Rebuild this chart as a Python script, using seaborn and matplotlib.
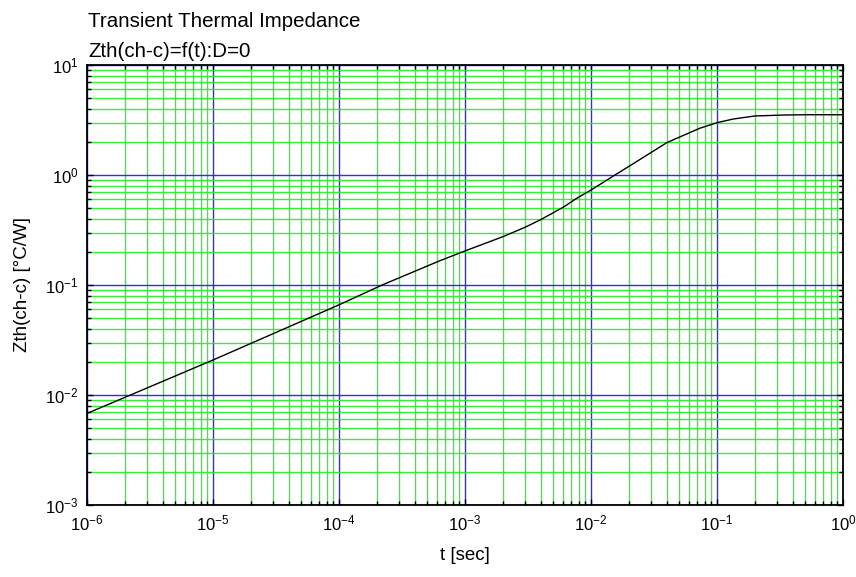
import numpy as np
import pandas as pd
import matplotlib
matplotlib.use("Agg")
import matplotlib.pyplot as plt
import seaborn as sns
from matplotlib.ticker import LogLocator, NullFormatter, LogFormatterSciNotation

# ---- data ----
t_sec = [1e-6, 1e-5, 1e-4, 2.2e-4, 6.3e-4, 1e-3, 2e-3, 3e-3, 3.94e-3, 6e-3, 7.7e-3,
         1e-2, 1.55e-2, 2.17e-2, 4e-2, 7.3e-2, 1e-1, 1.35e-1, 2e-1, 3.4e-1, 5e-1, 1.0]
zth = [0.0068, 0.0208, 0.066, 0.1, 0.166, 0.204, 0.275, 0.335, 0.39, 0.508, 0.614,
       0.73, 1.0, 1.27, 1.97, 2.66, 2.99, 3.23, 3.44, 3.51, 3.53, 3.53]

x_ticks = [1e-6, 1e-5, 1e-4, 1e-3, 1e-2, 1e-1, 1e0]
y_ticks = [1e-3, 1e-2, 1e-1, 1e0, 1e1]

title_lines = ["Transient Thermal Impedance", "Zth(ch-c)=f(t):D=0"]
x_label = "t [sec]"
y_label = "Zth(ch-c) [°C/W]"

df = pd.DataFrame({"t": t_sec, "Z": zth})

sns.set_style("white")
plt.rcParams["font.family"] = ["Liberation Sans", "DejaVu Sans"]
plt.rcParams["mathtext.fontset"] = "custom"
plt.rcParams["mathtext.rm"] = "Liberation Sans"
plt.rcParams["mathtext.it"] = "Liberation Sans"
plt.rcParams["mathtext.bf"] = "Liberation Sans"
plt.rcParams["axes.unicode_minus"] = False
plt.rcParams["text.color"] = "black"
plt.rcParams["axes.labelcolor"] = "black"
plt.rcParams["xtick.color"] = "black"
plt.rcParams["ytick.color"] = "black"

fig = plt.figure(figsize=(8.56, 5.77), dpi=100)
ax = fig.add_axes([87 / 856, 1 - 505 / 577, (843 - 87) / 856, (505 - 65) / 577])

sns.lineplot(data=df, x="t", y="Z", ax=ax, color="black", linewidth=1.0, zorder=5)

ax.set_xscale("log")
ax.set_yscale("log")
ax.set_xlim(x_ticks[0], x_ticks[-1])
ax.set_ylim(y_ticks[0], y_ticks[-1])

ax.set_xticks(x_ticks)
ax.set_yticks(y_ticks)
ax.xaxis.set_major_formatter(LogFormatterSciNotation())
ax.yaxis.set_major_formatter(LogFormatterSciNotation())
ax.xaxis.set_minor_locator(LogLocator(base=10, subs=np.arange(2, 10), numticks=100))
ax.yaxis.set_minor_locator(LogLocator(base=10, subs=np.arange(2, 10), numticks=100))
ax.xaxis.set_minor_formatter(NullFormatter())
ax.yaxis.set_minor_formatter(NullFormatter())

ax.grid(which="minor", color="#1fef1f", linewidth=1.0, alpha=0.9)
ax.grid(which="major", color="#2b2bff", linewidth=1.0)
ax.set_axisbelow(True)

ax.tick_params(which="both", direction="in", top=True, right=True, bottom=True, left=True,
               color="black")
ax.tick_params(which="major", length=4, width=1, labelsize=12, labelcolor="black")
ax.tick_params(which="minor", length=3, width=1)
ax.tick_params(axis="x", pad=6)
ax.tick_params(axis="y", pad=6)

for s in ax.spines.values():
    s.set_color("black")
    s.set_linewidth(1.3)

ax.set_xlabel(x_label, fontsize=13.5, labelpad=10, color="black")
ax.set_ylabel(y_label, fontsize=13.5, labelpad=10, color="black")

fig.text(88 / 856, 1 - 27 / 577, title_lines[0], fontsize=14.8, ha="left", va="baseline",
         color="black")
fig.text(88 / 856, 1 - 57 / 577, title_lines[1], fontsize=14.8, ha="left", va="baseline",
         color="black")

fig.savefig("out.png", dpi=100)
